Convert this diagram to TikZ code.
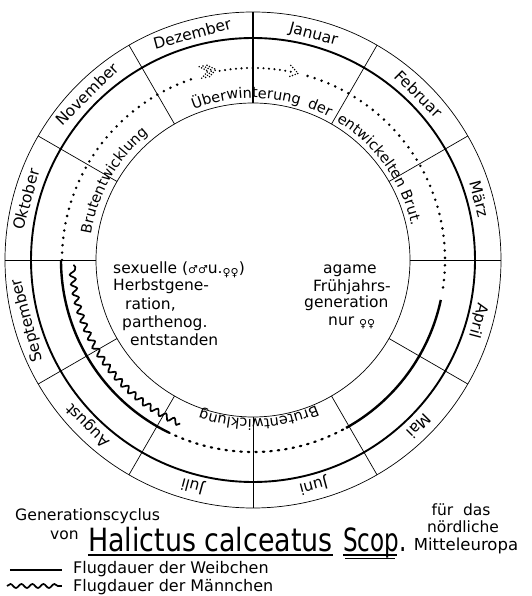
\documentclass[tikz,border=0pt]{standalone}
\usepackage{fontspec}
\setmainfont{DejaVu Sans}
\usetikzlibrary{decorations.text,decorations.pathmorphing}
\newcommand\fs[1]{\fontsize{#1}{#1}\selectfont}
\newcommand\rf{\fontsize{14.5}{14.5}\selectfont}
\newcommand\symsm{\fontsize{11}{11}\selectfont}
\newcommand\ringtext[4]{\path[decorate, decoration={text along path, text={|\rf|#1}}] (#2:#4) arc[start angle=#2, end angle=#3, radius=#4];}
\begin{document}
\begin{tikzpicture}[x=1pt,y=1pt,
  thinl/.style={line width=0.7pt},
  dotl/.style={line width=2.8pt, line cap=round, dash pattern=on 0pt off 7.4pt},
  fdotl/.style={line width=2.3pt, line cap=round, dash pattern=on 0pt off 5.5pt},
  bdash/.style={line width=2.2pt, line cap=round, dash pattern=on 1.5pt off 6pt},
  chev/.style={line width=1.7pt, line cap=round, dash pattern=on 0pt off 2.8pt},
  female/.style={line width=2.4pt},
  male/.style={line width=1.7pt, decorate, decoration={snake, segment length=9.5pt, amplitude=2.8pt}},
  monthlbl/.style={font=\fs{15.5}, anchor=base, inner sep=0pt},
  innertxt/.style={font=\fs{15.5}, anchor=base west, inner sep=0pt},
  captxt/.style={font=\fs{16}, anchor=base west, inner sep=0pt},
  ]
\useasboundingbox (-253,-336) rectangle (278,260);
\fill[white] (-253,-336) rectangle (278,260);

% circles
\draw[thinl] (0,0) circle[radius=248];
\draw[line width=1.9pt] (0,0) circle[radius=222];
\draw[thinl] (0,0) circle[radius=157];

% radial lines
\foreach \a in {0,30,60,120,150,180,210,240,270,300,330}
  \draw[thinl] (\a:157) -- (\a:248);
\draw[line width=2.6pt] (90:157) -- (90:248);

% month labels
\foreach \n/\a [count=\i] in {Januar/75, Februar/45, März/15, April/-15, Mai/-45, Juni/-75, Juli/-105, August/-135, September/-165, Oktober/165, November/135, Dezember/105}
  \node[monthlbl, rotate=\a-90] (month\i) at (\a:229) {\n};

% ring texts
\ringtext{Überwinterung}{111.5}{60}{162}
\ringtext{der}{70.5}{50}{162}
\ringtext{entwickelten}{59}{10}{162}
\ringtext{Brut.}{24.5}{0}{162}
\ringtext{Brutentwicklung}{171}{110}{164}
\ringtext{Brutentwicklung}{-66.5}{-130}{159}

% dotted course
\draw[dotl] (180:191) arc[start angle=180, end angle=108.5, radius=191];
\draw[fdotl] (100:192) arc[start angle=100, end angle=78, radius=192];
\draw[dotl] (73.5:192) arc[start angle=73.5, end angle=-9, radius=192];
\draw[bdash] (-62:192) arc[start angle=-62, end angle=-116, radius=192];

% arrowheads
\begin{scope}[shift={(76.4:192)}, rotate=-13.6]
  \draw[chev] (-9,6) -- (0,0) -- (-9,-6);
\end{scope}
\begin{scope}[shift={(101:194)}, rotate=11]
  \foreach \d in {0,4,8}
    \draw[chev] (-8-\d,6) -- (-\d,0) -- (-8-\d,-6);
\end{scope}

% flight periods
\draw[female] (-12:192) arc[start angle=-12, end angle=-61, radius=192];
\draw[female] (-116:192) arc[start angle=-116, end angle=-180, radius=192];
\draw[male] (-114:179) arc[start angle=-114, end angle=-178.5, radius=179];

% inner texts
\node[innertxt] (s1) at (-140,-14) {sexuelle ({\symsm ♂♂}u.\raisebox{-2.5pt}{\symsm ♀♀})};
\node[innertxt] (s2) at (-140,-31) {Herbstgene-};
\node[innertxt] (s3) at (-128,-49) {ration,};
\node[innertxt] (s4) at (-131,-67) {parthenog.};
\node[innertxt] (s5) at (-123,-85) {entstanden};
\node[innertxt] (a1) at (70,-14) {agame};
\node[innertxt] (a2) at (60,-32) {Frühjahrs-};
\node[innertxt] (a3) at (51,-48) {generation};
\node[innertxt] (a4) at (75,-65) {nur \raisebox{-2.5pt}{\symsm ♀♀}};

% caption
\node[captxt, font=\fs{15.7}] (gen) at (-238,-260) {Generationscyclus};
\node[captxt, font=\fs{15.5}] (von) at (-203,-279) {von};
\node[anchor=base west, inner sep=0pt, font=\fs{32}, xscale=0.84] (hc) at (-165,-291) {Halictus calceatus};
\node[anchor=base west, inner sep=0pt, font=\fs{32}, xscale=0.72] (sc) at (90,-291) {Scop.};
\draw[line width=1.6pt] ([yshift=-4pt]hc.base west) -- ([yshift=-4pt]hc.base east);
\draw[line width=1.6pt] ([yshift=-4pt]sc.base west) -- ++(54,0);
\draw[line width=1pt] ([yshift=-7.5pt,xshift=2pt]sc.base west) -- ++(50,0);
\node[anchor=base, inner sep=0pt, font=\fs{15.5}] (fd) at (208,-255) {für\ \ das};
\node[anchor=base, inner sep=0pt, font=\fs{15.5}] (nd) at (210,-272) {nördliche};
\node[anchor=base, inner sep=0pt, font=\fs{16.5}] (me) at (213,-290) {Mitteleuropa};

% legend
\coordinate (l1a) at (-243,-310);
\coordinate (l1b) at (-191,-310);
\coordinate (l2a) at (-246,-326);
\coordinate (l2b) at (-191,-326);
\draw[line width=2pt] (l1a) -- (l1b);
\draw[male, decoration={snake, segment length=11pt, amplitude=2pt}] (l2a) -- (l2b);
\node[captxt] (lw) at (-180,-313) {Flugdauer der Weibchen};
\node[captxt] (lm) at (-180,-331) {Flugdauer der Männchen};
\end{tikzpicture}
\end{document}
